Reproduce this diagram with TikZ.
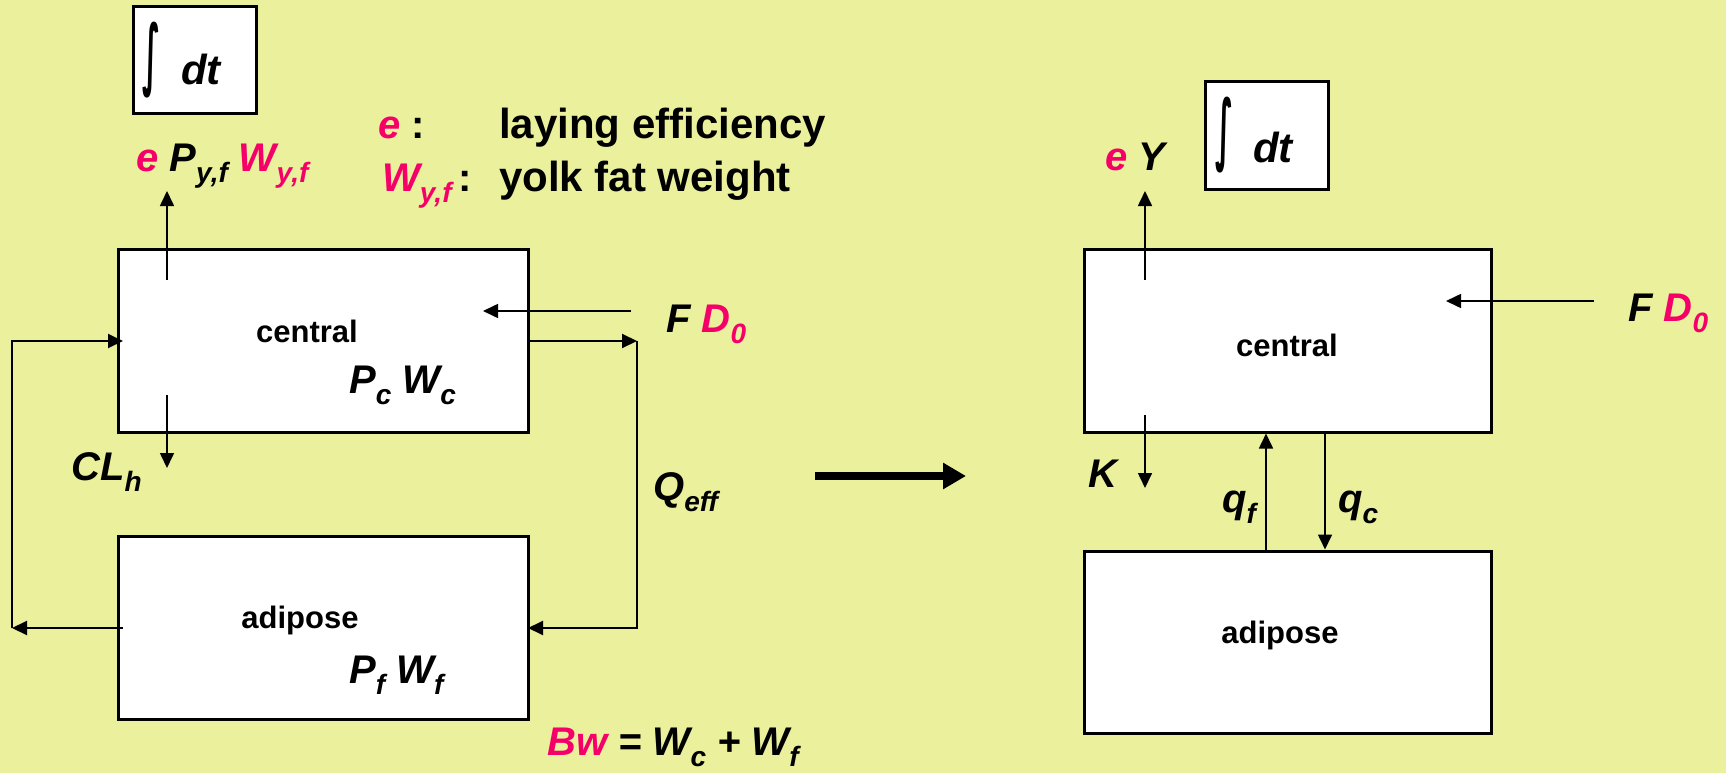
\documentclass[tikz,border=0pt]{standalone}
\usepackage{fontspec}
\usepackage{graphicx}
\setmainfont{Liberation Sans}
\newfontfamily\symf{DejaVu Sans}
\usetikzlibrary{arrows.meta}
\definecolor{bgc}{RGB}{234,240,156}
\definecolor{pk}{RGB}{245,0,105}
\newcommand\lbl{\fontsize{40}{48}\selectfont\bfseries\itshape}
\newcommand\txt{\fontsize{42}{50}\selectfont\bfseries}
\newcommand\boxtxt{\fontsize{31}{36}\selectfont\bfseries}
\newcommand\sbs[1]{\raisebox{-11pt}{\fontsize{28}{30}\selectfont\bfseries\itshape #1}}
\newcommand\intsym{\resizebox*{18pt}{76pt}{\symf\bfseries ∫}}
\begin{document}
\begin{tikzpicture}[x=1pt,y=-1pt,
  box/.style={draw, fill=white, line width=3pt, inner sep=0pt},
  lab/.style={inner sep=0pt, anchor=base west},
  ctr/.style={inner sep=0pt, anchor=base},
  arr/.style={line width=1.6pt, -{Triangle[length=15pt,width=14pt]}},
  loop/.style={line width=2pt, -{Triangle[length=15pt,width=14pt]}},
  bigarr/.style={line width=8pt, -{Triangle[length=23pt,width=25pt]}}]
\fill[bgc] (0,0) rectangle (1726,773);
\useasboundingbox (0,0) rectangle (1726,773);

% ---------- left diagram ----------
\node[box, minimum width=123pt, minimum height=107pt] (intL) at (194.5,60.5) {};
\node[box, minimum width=410pt, minimum height=183pt] (cenL) at (323,340.5) {};
\node[box, minimum width=410pt, minimum height=183pt] (adiL) at (323,627.5) {};

\node[inner sep=0pt] (intLs) at (151.5,60) {\intsym};
\node[lab] (intLd) at (181,85) {\fontsize{42}{50}\selectfont\bfseries\itshape dt};

\node[lab] (outL) at (136,171) {\lbl\textcolor{pk}{e} P\sbs{y,f} \textcolor{pk}{W\sbs{y,f}}};
\node[lab] (leg1k) at (378,139) {\lbl\textcolor{pk}{e} {\upshape :}};
\node[lab] (leg1v) at (499,139) {\txt laying efficiency};
\node[lab] (leg2k) at (382,191) {\lbl\textcolor{pk}{W\sbs{y,f}}\,{\upshape :}};
\node[lab] (leg2v) at (499,191) {\txt yolk fat weight};
\node[lab] (fdL) at (666,332) {\lbl F \textcolor{pk}{D\sbs{0}}};
\node[ctr] (cenLt) at (307,342) {\boxtxt central};
\node[lab] (pcL) at (349,393) {\lbl P\sbs{c} W\sbs{c}};
\node[lab] (clL) at (71,480) {\lbl CL\sbs{h}};
\node[lab] (qeL) at (653,500) {\lbl Q\sbs{eff}};
\node[ctr] (adiLt) at (300,628) {\boxtxt adipose};
\node[lab] (pfL) at (349,683) {\lbl P\sbs{f} W\sbs{f}};
\node[lab] (bwL) at (547,755) {\lbl\textcolor{pk}{Bw} = W\sbs{c} + W\sbs{f}};

\coordinate (uL0) at (167,280);
\coordinate (uL1) at (167,191);
\coordinate (dL0) at (167,395);
\coordinate (dL1) at (167,468);
\coordinate (fL0) at (631,311);
\coordinate (fL1) at (483,311);
\coordinate (lA) at (123,628);
\coordinate (lB) at (12,628);
\coordinate (lC) at (123,341);
\coordinate (rA) at (528,341);
\coordinate (rB) at (637,341);
\coordinate (rC) at (528,628);

\draw[arr] (uL0) -- (uL1);
\draw[arr] (dL0) -- (dL1);
\draw[arr] (fL0) -- (fL1);
\draw[loop] (lA) -- (lB);
\draw[loop] (lB) |- (lC);
\draw[loop] (rA) -- (rB);
\draw[loop] (rB) |- (rC);

% ---------- big arrow ----------
\coordinate (bA) at (815,476);
\coordinate (bB) at (966,476);
\draw[bigarr] (bA) -- (bB);

% ---------- right diagram ----------
\node[box, minimum width=123pt, minimum height=107pt] (intR) at (1266.5,135.5) {};
\node[box, minimum width=407pt, minimum height=183pt] (cenR) at (1287.5,340.5) {};
\node[box, minimum width=407pt, minimum height=182pt] (adiR) at (1287.5,642) {};

\node[inner sep=0pt] (intRs) at (1224,135.5) {\intsym};
\node[lab] (intRd) at (1253,162) {\fontsize{42}{50}\selectfont\bfseries\itshape dt};

\node[lab] (outR) at (1105,170) {\lbl\textcolor{pk}{e} Y};
\node[lab] (fdR) at (1628,321) {\lbl F \textcolor{pk}{D\sbs{0}}};
\node[ctr] (cenRt) at (1287,356) {\boxtxt central};
\node[lab] (kR) at (1088,487) {\lbl K};
\node[lab] (qfR) at (1222,512) {\lbl q\sbs{f}};
\node[lab] (qcR) at (1338,512) {\lbl q\sbs{c}};
\node[ctr] (adiRt) at (1280,643) {\boxtxt adipose};

\coordinate (uR0) at (1145,280);
\coordinate (uR1) at (1145,191);
\coordinate (dR0) at (1145,415);
\coordinate (dR1) at (1145,488);
\coordinate (fR0) at (1594,301);
\coordinate (fR1) at (1446,301);

\draw[arr] (uR0) -- (uR1);
\draw[arr] (dR0) -- (dR1);
\draw[arr] (fR0) -- (fR1);
\draw[arr] (adiR.north -| 1266,0) -- (cenR.south -| 1266,0);
\draw[arr] (cenR.south -| 1325,0) -- (adiR.north -| 1325,0);
\end{tikzpicture}
\end{document}
